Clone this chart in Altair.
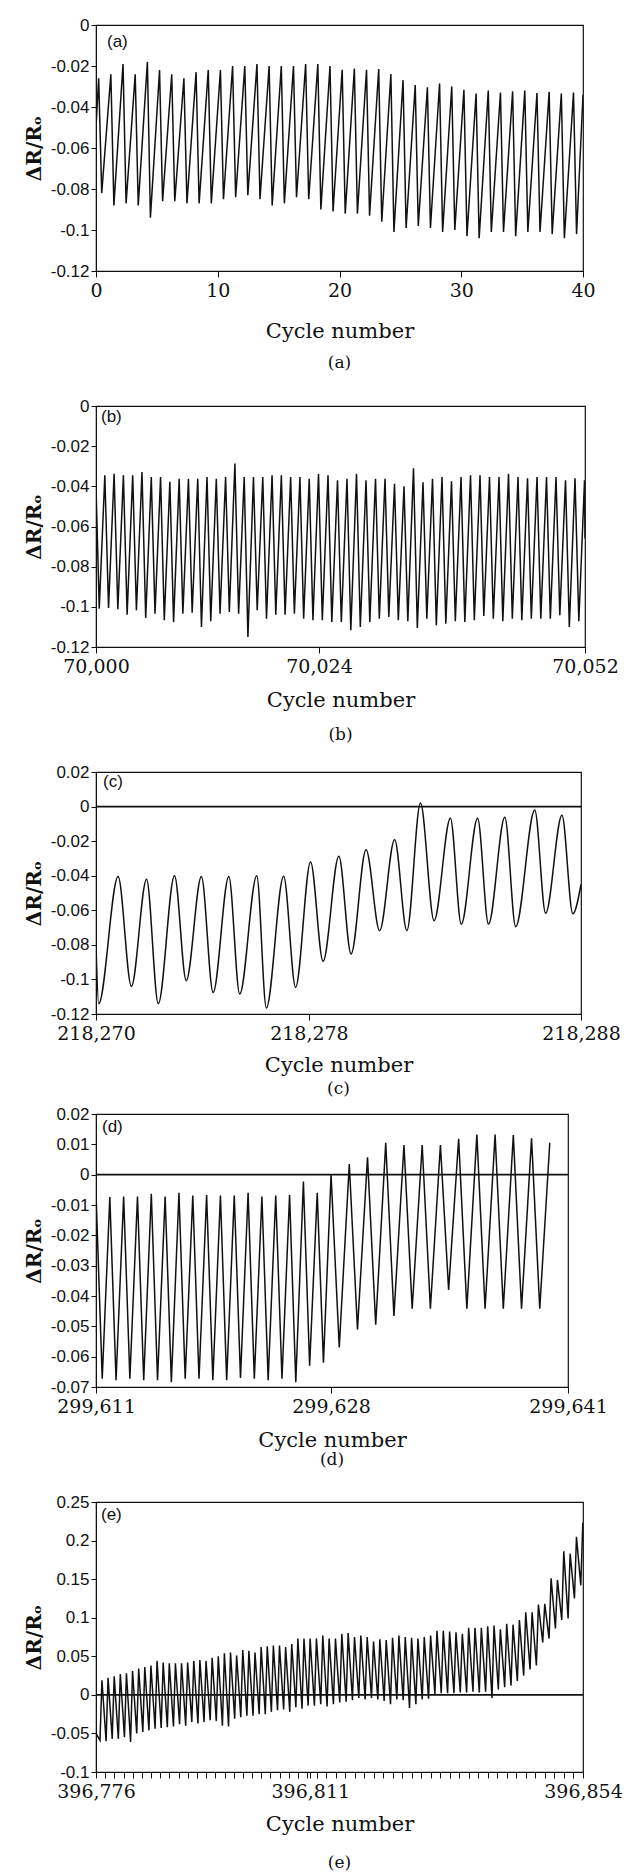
import altair as alt
import pandas as pd

SERIF = "DejaVu Serif"
SANS = "Liberation Sans"
INK = "#111111"

# ---------------- panel (a): cycles 0-40 ----------------
a_cycles = 40
a_start = -0.050
a_end = -0.034
a_peaks = [-0.026, -0.024, -0.019, -0.024, -0.018, -0.022, -0.024, -0.026, -0.023, -0.022,
           -0.022, -0.020, -0.020, -0.019, -0.020, -0.020, -0.020, -0.019, -0.019, -0.020,
           -0.0218, -0.0212, -0.0218, -0.0215, -0.0239, -0.0269, -0.0293, -0.0304, -0.0285, -0.030,
           -0.0316, -0.0334, -0.032, -0.0329, -0.0324, -0.032, -0.0332, -0.0326, -0.0334, -0.0329]
a_troughs = [-0.082, -0.088, -0.087, -0.088, -0.094, -0.086, -0.086, -0.087, -0.087, -0.087,
             -0.085, -0.084, -0.083, -0.085, -0.088, -0.087, -0.084, -0.085, -0.090, -0.091,
             -0.092, -0.092, -0.093, -0.096, -0.101, -0.099, -0.098, -0.099, -0.101, -0.100,
             -0.103, -0.104, -0.101, -0.101, -0.103, -0.101, -0.101, -0.102, -0.104, -0.102]
a_xticks = [0, 10, 20, 30, 40]
a_yticks = [0, -0.02, -0.04, -0.06, -0.08, -0.1, -0.12]

# ---------------- panel (b): cycles 70,000-70,052 ----------------
b_first = 70000
b_start = -0.040
b_end = -0.066
b_peaks = [-0.0345, -0.0337, -0.0345, -0.0345, -0.0329, -0.0354, -0.0354, -0.0377, -0.0362, -0.0362,
           -0.0362, -0.0354, -0.0362, -0.0354, -0.0287, -0.0354, -0.0354, -0.0354, -0.0345, -0.0345,
           -0.0354, -0.0354, -0.0362, -0.0337, -0.0345, -0.0370, -0.0362, -0.0337, -0.0370, -0.0362,
           -0.0362, -0.0387, -0.0400, -0.0310, -0.0380, -0.0362, -0.0354, -0.0375, -0.0354, -0.0345,
           -0.0345, -0.0354, -0.0354, -0.0337, -0.0354, -0.0360, -0.0354, -0.0354, -0.0354, -0.0370,
           -0.0360, -0.0370]
b_troughs = [-0.1009, -0.1006, -0.1012, -0.1039, -0.1017, -0.1056, -0.1034, -0.1067, -0.1076, -0.1034,
             -0.1029, -0.1100, -0.1072, -0.1034, -0.1026, -0.1034, -0.1150, -0.1017, -0.1059, -0.1039,
             -0.1039, -0.1034, -0.1059, -0.1067, -0.1067, -0.1076, -0.1076, -0.1117, -0.1100, -0.1076,
             -0.1059, -0.1051, -0.1067, -0.1072, -0.1105, -0.1059, -0.1092, -0.1084, -0.1072, -0.1076,
             -0.1067, -0.1046, -0.1059, -0.1072, -0.1059, -0.1067, -0.1059, -0.1059, -0.1059, -0.1042,
             -0.1100, -0.1072]
b_xticks = [70000, 70024, 70052]
b_yticks = [0, -0.02, -0.04, -0.06, -0.08, -0.1, -0.12]

# ---------------- panel (c): cycles 218,270-218,288 ----------------
c_first = 218270
c_start = -0.080
c_end = -0.045
c_peak_at = [0.83, 1.9, 2.95, 3.96, 4.99, 6.04, 7.05, 8.06, 9.1, 10.1, 11.15, 12.1, 13.2, 14.2, 15.2, 16.3, 17.3]
c_peaks = [-0.0405, -0.042, -0.040, -0.0405, -0.0405, -0.040, -0.0403, -0.032, -0.0287, -0.025,
           -0.019, 0.002, -0.0068, -0.0068, -0.0062, -0.002, -0.005]
c_trough_at = [0.1, 1.33, 2.34, 3.39, 4.4, 5.4, 6.4, 7.5, 8.52, 9.55, 10.6, 11.6, 12.6, 13.6, 14.6, 15.6, 16.7, 17.7]
c_troughs = [-0.114, -0.104, -0.114, -0.1007, -0.1076, -0.1085, -0.1165, -0.1046, -0.0895, -0.0853,
             -0.0718, -0.0718, -0.066, -0.068, -0.068, -0.0695, -0.0617, -0.062]
c_xticks = [218270, 218278, 218288]
c_yticks = [0.02, 0, -0.02, -0.04, -0.06, -0.08, -0.1, -0.12]

# ---------------- panel (d): cycles 299,611-299,641 ----------------
d_first = 299611
d_peaks = [-0.006, -0.0074, -0.0072, -0.0072, -0.0063, -0.0072, -0.006, -0.0069, -0.0067, -0.0069,
           -0.0069, -0.006, -0.0072, -0.0069, -0.0067, -0.0023, -0.006, 0.0, 0.0035, 0.0057,
           0.0105, 0.0098, 0.0098, 0.0098, 0.0118, 0.0132, 0.0132, 0.0131, 0.012, 0.0105]
d_troughs = [-0.0673, -0.0678, -0.0673, -0.0678, -0.0678, -0.0684, -0.0673, -0.0673, -0.0678, -0.0678,
             -0.067, -0.0673, -0.0678, -0.0673, -0.0684, -0.063, -0.062, -0.057, -0.051, -0.0495,
             -0.0466, -0.0442, -0.0442, -0.038, -0.0442, -0.0442, -0.0442, -0.0442, -0.0442]
d_xticks = [299611, 299628, 299641]
d_yticks = [0.02, 0.01, 0, -0.01, -0.02, -0.03, -0.04, -0.05, -0.06, -0.07]

# ---------------- panel (e): cycles 396,776-396,854 ----------------
e_first = 396776
e_start = -0.050
e_peaks = [0.019, 0.022, 0.024, 0.027, 0.028, 0.031, 0.034, 0.036, 0.038, 0.044,
           0.042, 0.041, 0.041, 0.041, 0.042, 0.044, 0.045, 0.044, 0.048, 0.050,
           0.054, 0.055, 0.051, 0.058, 0.057, 0.055, 0.062, 0.063, 0.064, 0.064,
           0.062, 0.066, 0.073, 0.073, 0.073, 0.073, 0.077, 0.073, 0.073, 0.079,
           0.080, 0.075, 0.077, 0.075, 0.069, 0.072, 0.071, 0.074, 0.077, 0.075,
           0.074, 0.073, 0.075, 0.077, 0.083, 0.083, 0.082, 0.081, 0.079, 0.087,
           0.087, 0.087, 0.089, 0.090, 0.085, 0.092, 0.091, 0.097, 0.107, 0.107,
           0.117, 0.118, 0.151, 0.149, 0.186, 0.183, 0.205, 0.223]
e_troughs = [-0.059, -0.060, -0.057, -0.057, -0.055, -0.061, -0.050, -0.048, -0.046, -0.044,
             -0.043, -0.042, -0.041, -0.038, -0.040, -0.035, -0.037, -0.035, -0.033, -0.034,
             -0.040, -0.041, -0.031, -0.029, -0.027, -0.027, -0.025, -0.025, -0.022, -0.020,
             -0.019, -0.022, -0.016, -0.018, -0.014, -0.014, -0.012, -0.015, -0.012, -0.010,
             -0.009, -0.007, -0.004, -0.006, -0.004, -0.006, -0.008, -0.012, -0.006, -0.007,
             -0.017, -0.012, -0.006, -0.005, 0.001, 0.002, 0.002, 0.002, 0.003, 0.003,
             0.004, 0.003, 0.004, -0.004, 0.007, 0.010, 0.012, 0.018, 0.025, 0.033,
             0.038, 0.068, 0.073, 0.086, 0.097, 0.099, 0.125, 0.142]
e_xticks = [396776, 396811, 396854]
e_minor_step = 1.5
e_yticks = [0.25, 0.2, 0.15, 0.1, 0.05, 0, -0.05, -0.1]

Y_TITLE = "\u0394R/R\u2092"


def series(points):
    points = sorted(points)
    return pd.DataFrame(points, columns=["x", "y"])


a_df = series([(0, a_start), (a_cycles, a_end)]
              + [(n + 0.22, v) for n, v in enumerate(a_peaks)]
              + [(n + 0.47, v) for n, v in enumerate(a_troughs)])
b_df = series([(b_first, b_start), (b_xticks[-1], b_end)]
              + [(b_first + n + 0.95, v) for n, v in enumerate(b_peaks)]
              + [(b_first + n + 0.35, v) for n, v in enumerate(b_troughs)])
c_df = series([(c_first, c_start), (c_xticks[-1], c_end)]
              + [(c_first + p, v) for p, v in zip(c_peak_at, c_peaks)]
              + [(c_first + p, v) for p, v in zip(c_trough_at, c_troughs)])
d_df = series([(d_first + n, v) for n, v in enumerate(d_peaks)]
              + [(d_first + n + 0.45, v) for n, v in enumerate(d_troughs)])
e_df = series([(e_first, e_start)]
              + [(e_first + n + 0.97, v) for n, v in enumerate(e_peaks)]
              + [(e_first + n + 0.65, v) for n, v in enumerate(e_troughs)])

e_minor = [e_first + e_minor_step * k for k in range(int((e_xticks[-1] - e_first) / e_minor_step) + 1)]
e_tick_values = sorted(set(e_minor + e_xticks))


def panel(df, W, H, xdomain, xrange, xvalues, xlabel_expr, ydomain, yvalues,
          tag, tag_dx, tag_dy, caption, cap_offset, title_y, zero_line=False, interp="linear"):
    scale_kw = dict(domain=xdomain, nice=False, zero=False)
    if xrange is not None:
        scale_kw["range"] = xrange
    x_enc = alt.X(
        "x:Q",
        scale=alt.Scale(**scale_kw),
        axis=alt.Axis(
            values=xvalues, labelExpr=xlabel_expr, title="Cycle number",
            labelFont=SERIF, labelFontSize=19, labelPadding=4, tickSize=6,
            labelFlush=False, labelOverlap=False, labelBound=False,
            titleFont=SERIF, titleFontSize=21, titleFontWeight="normal",
            titleY=title_y, titleBaseline="middle",
            domainColor=INK, tickColor=INK, labelColor=INK, titleColor=INK,
            grid=False,
        ),
    )
    y_axis = alt.Axis(
        values=yvalues, labelExpr="toString(datum.value)", title=Y_TITLE,
        labelFont=SANS, labelFontSize=17, labelPadding=2, tickSize=5,
        labelOverlap=False, labelBound=False, labelFlush=False,
        titleFont=SERIF, titleFontSize=20, titleFontWeight="bold",
        titleX=-62, titleY=H / 2, titleBaseline="middle", titleAngle=270,
        domainColor=INK, tickColor=INK, labelColor=INK, titleColor=INK,
        grid=False,
    )
    y_scale = alt.Scale(domain=ydomain, nice=False, zero=False)
    line = alt.Chart(df).mark_line(color=INK, strokeWidth=1.5, interpolate=interp, clip=True).encode(
        x=x_enc, y=alt.Y("y:Q", scale=y_scale, axis=y_axis))
    layers = [line]
    if zero_line:
        zero = alt.Chart(pd.DataFrame({"y": [0.0]})).mark_rule(color=INK, strokeWidth=1.7).encode(
            y=alt.Y("y:Q", scale=y_scale, axis=y_axis))
        layers.append(zero)
    tag_layer = alt.Chart(pd.DataFrame({"t": [tag]})).mark_text(
        align="left", baseline="middle", font=SANS, fontSize=17, color=INK
    ).encode(text="t:N", x=alt.value(tag_dx), y=alt.value(tag_dy))
    layers.append(tag_layer)
    return alt.layer(*layers).properties(
        width=W, height=H,
        title=alt.TitleParams(caption, orient="bottom", anchor="middle", font=SERIF,
                              fontSize=17, fontWeight="normal", color=INK, offset=cap_offset),
    )


def spacer(h):
    return alt.Chart(pd.DataFrame({"v": [0]})).mark_point(opacity=0).properties(
        width=10, height=h, view=alt.ViewBackground(stroke="transparent"))


LAB = "format(datum.value, ',d')"
e_lab = "indexof([396776, 396811, 396854], datum.value) >= 0 ? format(datum.value, ',d') : ''"

W_a, H_a = 487, 246
W_b, H_b = 489, 241
W_c, H_c = 485, 242
W_d, H_d = 472, 273
W_e, H_e = 487, 270

pa = panel(a_df, W_a, H_a, [0, a_cycles], None, a_xticks, "format(datum.value, 'd')",
           [-0.12, 0], a_yticks, "(a)", 11, 17, "(a)", 14, 60)
pb = panel(b_df, W_b, H_b, b_xticks, [0, 0.456 * W_b, W_b], b_xticks, LAB,
           [-0.12, 0], b_yticks, "(b)", 5, 11, "(b)", 17, 53)
pc = panel(c_df, W_c, H_c, c_xticks, [0, 0.439 * W_c, W_c], c_xticks, LAB,
           [-0.12, 0.02], c_yticks, "(c)", 7, 10, "(c)", 6, 51, zero_line=True, interp="monotone")
pd_ = panel(d_df, W_d, H_d, d_xticks, [0, 0.498 * W_d, W_d], d_xticks, LAB,
            [-0.07, 0.02], d_yticks, "(d)", 6, 13, "(d)", 2, 53, zero_line=True)
pe = panel(e_df, W_e, H_e, [e_xticks[0], e_xticks[1], e_xticks[2]], [0, 0.44 * W_e, W_e],
           e_tick_values, e_lab, [-0.1, 0.25], e_yticks, "(e)", 5, 13, "(e)", 21, 52, zero_line=True)

chart = alt.vconcat(
    pa, spacer(135), pb, spacer(125), pc, spacer(100), pd_, spacer(115), pe,
    spacing=0, bounds="flush",
).properties(
    padding={"top": 15, "left": 23, "right": 0, "bottom": 4},
    background="white",
).configure_view(
    stroke=INK, strokeWidth=1.2
).configure_title(
    font=SERIF
)

chart.save("out.html", embed_options={"renderer": "svg", "actions": False})
